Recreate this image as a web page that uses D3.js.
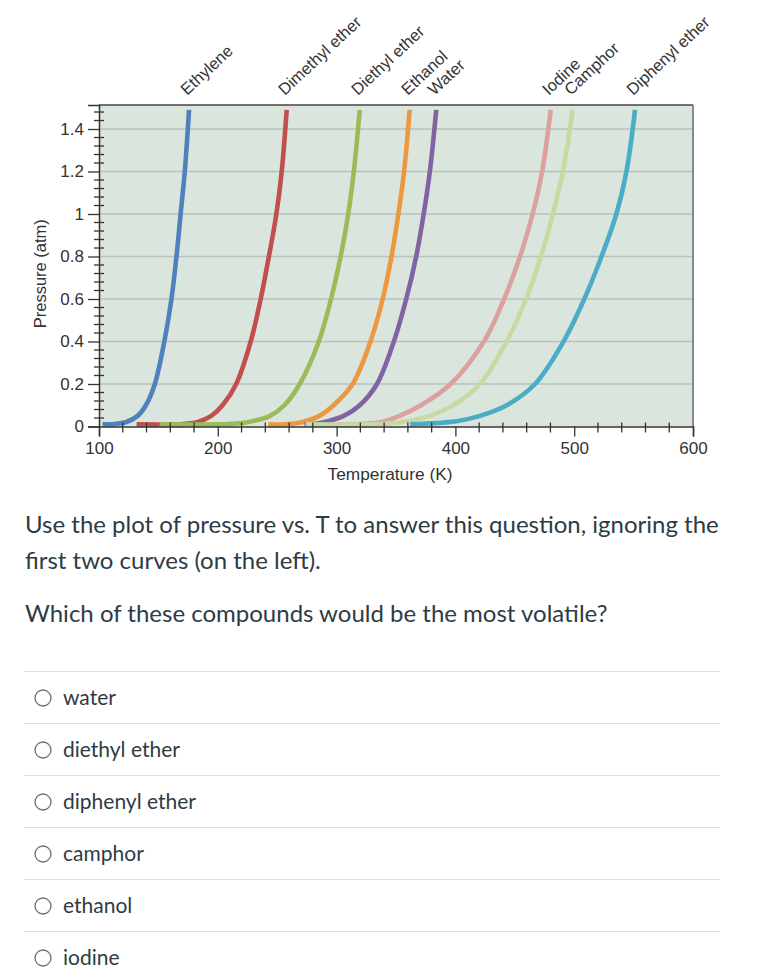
<!DOCTYPE html>
<html><head><meta charset="utf-8">
<script src="https://cdn.jsdelivr.net/npm/d3@7"></script>
<style>body{margin:0;background:#fff}svg{display:block}</style>
</head><body>
<script>
// ---- data: [Temperature (K), Pressure (atm)] ----
const compounds = ["Ethylene","Dimethyl ether","Diethyl ether","Ethanol","Water","Iodine","Camphor","Diphenyl ether"];
const ethylene = [[103,0.01],[113,0.012],[122.5,0.02],[132.5,0.05],[139.5,0.1],[147,0.2],[155,0.4],[161,0.6],[165.2,0.8],[168.7,1.0],[172.2,1.2],[175.8,1.49]];
const dimethylEther = [[131.7,0.01],[163,0.01],[173,0.013],[182.5,0.02],[194.5,0.05],[204,0.1],[215.5,0.2],[227.7,0.4],[236.1,0.6],[243,0.8],[249.3,1.0],[253.8,1.2],[258,1.49]];
const diethylEther = [[151,0.01],[200,0.01],[212,0.013],[225,0.02],[244,0.05],[256,0.1],[269,0.2],[285,0.4],[295.3,0.6],[303.4,0.8],[309.8,1.0],[314.5,1.2],[319.5,1.49]];
const ethanol = [[242.5,0.01],[258,0.01],[270.5,0.02],[285.5,0.05],[297.5,0.1],[313.5,0.2],[328.5,0.4],[338.8,0.6],[346.2,0.8],[352,1.0],[356.8,1.2],[361.5,1.49]];
const water = [[273,0.01],[280,0.012],[289,0.02],[306,0.05],[319.5,0.1],[334,0.2],[348.2,0.4],[358.6,0.6],[367,0.8],[373.3,1.0],[378.5,1.2],[383.9,1.49]];
const iodine = [[300,0.01],[324,0.013],[337,0.02],[353,0.05],[371,0.1],[396,0.2],[424,0.4],[441,0.6],[454.4,0.8],[465,1.0],[473,1.2],[480.2,1.49]];
const camphor = [[274,0.01],[335,0.012],[353.4,0.02],[378.6,0.05],[398.2,0.1],[420.7,0.2],[443,0.4],[459.5,0.6],[472,0.8],[482,1.0],[490.5,1.2],[498.7,1.49]];
const diphenylEther = [[362,0.01],[372.7,0.013],[401,0.025],[420.7,0.05],[443.2,0.1],[467,0.2],[491,0.4],[508.5,0.6],[523,0.8],[535.5,1.0],[544,1.2],[551.2,1.49]];
const seriesList = [ethylene, dimethylEther, diethylEther, ethanol, water, iodine, camphor, diphenylEther];

const xTicks = [100,200,300,400,500,600];
const xTickLabels = ["100","200","300","400","500","600"];
const yTicks = [0,0.2,0.4,0.6,0.8,1,1.2,1.4];
const yTickLabels = ["0","0.2","0.4","0.6","0.8","1","1.2","1.4"];
const xTitle = "Temperature (K)";
const yTitle = "Pressure (atm)";
const questionLines = ["Use the plot of pressure vs. T to answer this question, ignoring the","first two curves (on the left)."];
const questionText = "Which of these compounds would be the most volatile?";
const answers = ["water","diethyl ether","diphenyl ether","camphor","ethanol","iodine"];

// ---- styles ----
const colors = ["#4f81bd","#c0504d","#9bbb59","#ec9840","#8064a2","#dca09e","#c8d9a2","#4bacc6"];

const W = 757, H = 967;
const svg = d3.select("body").append("svg").attr("width", W).attr("height", H);
const x = d3.scaleLinear().domain([100, 600]).range([99, 693]);
const y = d3.scaleLinear().domain([0, 1.513]).range([426.5, 105]);
const chartFont = "'Liberation Sans', Arial, sans-serif";

// plot background
svg.append("rect").attr("x", x(100)).attr("y", y(1.513)).attr("width", x(600) - x(100)).attr("height", y(0) - y(1.513)).attr("fill", "#dae5dd");

// gridlines
svg.append("g").selectAll("line").data(yTicks.filter(d => d > 0)).join("line")
  .attr("x1", x(100)).attr("x2", x(600)).attr("y1", d => y(d)).attr("y2", d => y(d))
  .attr("stroke", "#b9c1bb").attr("stroke-width", 1.5);

// curves
const line = d3.line().x(d => x(d[0])).y(d => y(d[1])).curve(d3.curveCatmullRom.alpha(0.5));
svg.append("g").selectAll("path").data(seriesList).join("path")
  .attr("d", line).attr("fill", "none")
  .attr("stroke", (d, i) => colors[i]).attr("stroke-width", 4.6).attr("stroke-linecap", "butt");

// borders
svg.append("line").attr("x1", x(100)).attr("x2", x(600)).attr("y1", y(1.513)).attr("y2", y(1.513)).attr("stroke", "#444").attr("stroke-width", 1.5);
svg.append("line").attr("x1", x(600)).attr("x2", x(600)).attr("y1", y(1.513)).attr("y2", y(0)).attr("stroke", "#8a8a8a").attr("stroke-width", 2);

// x axis
const xMinor = d3.range(100, 601, 20).filter(v => v % 100 !== 0);
const gx = svg.append("g").attr("transform", `translate(0,${y(0)})`);
gx.call(d3.axisBottom(x).tickValues(xTicks).tickFormat((d, i) => xTickLabels[i]).tickSize(10).tickPadding(5))
  .call(g => g.select(".domain").attr("stroke", "#333").attr("stroke-width", 1.5));
gx.selectAll(".tick line").attr("stroke", "#333").attr("stroke-width", 1.3);
gx.selectAll(".tick text").attr("font-family", chartFont).attr("font-size", 17).attr("fill", "#333");
gx.append("g").selectAll("line").data(xMinor).join("line")
  .attr("x1", d => x(d)).attr("x2", d => x(d)).attr("y1", -4).attr("y2", 6)
  .attr("stroke", "#333").attr("stroke-width", 1.3);

// y axis
const yMinor = d3.range(0, 1.5, 0.04).map(v => +v.toFixed(2)).filter(v => Math.abs(v * 5 - Math.round(v * 5)) > 1e-6);
const gy = svg.append("g").attr("transform", `translate(${x(100)},0)`);
gy.call(d3.axisLeft(y).tickValues(yTicks).tickFormat((d, i) => yTickLabels[i]).tickSize(11).tickPadding(4))
  .call(g => g.select(".domain").attr("stroke", "#333").attr("stroke-width", 1.5));
gy.selectAll(".tick line").attr("stroke", "#333").attr("stroke-width", 1.3);
gy.selectAll(".tick text").attr("font-family", chartFont).attr("font-size", 17).attr("fill", "#333");
gy.append("g").selectAll("line").data(yMinor).join("line")
  .attr("x1", -5).attr("x2", 5).attr("y1", d => y(d)).attr("y2", d => y(d))
  .attr("stroke", "#333").attr("stroke-width", 1.3);

// axis titles
svg.append("text").attr("x", (x(100) + x(600)) / 2 - 6).attr("y", 480).attr("text-anchor", "middle")
  .attr("font-family", chartFont).attr("font-size", 17.3).attr("fill", "#333").text(xTitle);
svg.append("text").attr("transform", `translate(46,${(y(0) + y(1.513)) / 2 + 8}) rotate(-90)`).attr("text-anchor", "middle")
  .attr("font-family", chartFont).attr("font-size", 16.5).attr("fill", "#333").text(yTitle);

// compound labels at curve tops
svg.append("g").selectAll("text").data(seriesList).join("text")
  .attr("transform", d => { const t = d[d.length - 1]; return `translate(${x(t[0]) - 2},96) rotate(-43)`; })
  .attr("font-family", chartFont).attr("font-size", 16.5).attr("fill", "#333")
  .text((d, i) => compounds[i]);

// question text
const qFont = "Lato, 'Open Sans', sans-serif";
const qColor = "#2d3b45";
svg.append("g").selectAll("text").data(questionLines).join("text")
  .attr("x", 25).attr("y", (d, i) => 533 + i * 36)
  .attr("font-family", qFont).attr("font-size", 24).attr("fill", qColor).text(d => d);
svg.append("text").attr("x", 25).attr("y", 622)
  .attr("font-family", qFont).attr("font-size", 24).attr("fill", qColor).text(questionText);

// answers
const ga = svg.append("g");
ga.selectAll("line").data(answers).join("line")
  .attr("x1", 24).attr("x2", 720).attr("y1", (d, i) => 671.5 + i * 52).attr("y2", (d, i) => 671.5 + i * 52)
  .attr("stroke", "#dcdfe1").attr("stroke-width", 1.2);
ga.selectAll("circle").data(answers).join("circle")
  .attr("cx", 43).attr("cy", (d, i) => 698 + i * 52).attr("r", 8)
  .attr("fill", "#fff").attr("stroke", "#6a6f73").attr("stroke-width", 1.3);
ga.selectAll("text").data(answers).join("text")
  .attr("x", 63).attr("y", (d, i) => 705 + i * 52)
  .attr("font-family", qFont).attr("font-size", 21).attr("fill", qColor).text(d => d);
</script>
</body></html>
